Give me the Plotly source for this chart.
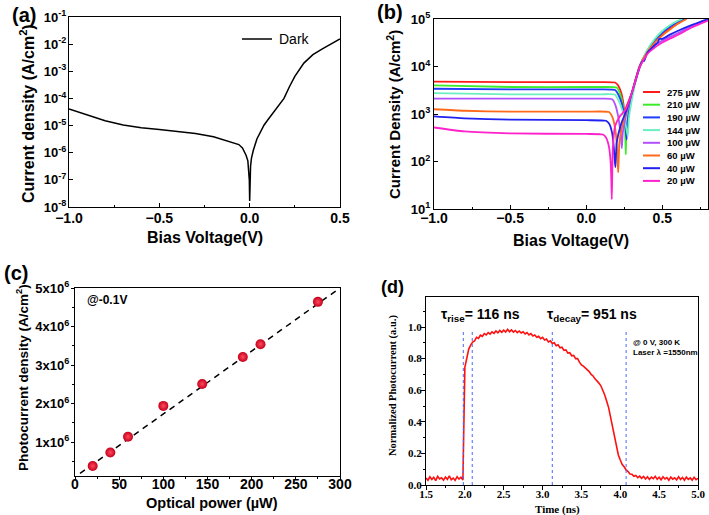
import plotly.graph_objects as go

W, H = 709, 515

# ---------------- data ----------------
# (a) dark J-V
dark_v = [-1.0, -0.9, -0.8, -0.7, -0.6, -0.5, -0.4, -0.3, -0.2, -0.1, -0.06, -0.04, -0.02,
          -0.01, -0.005, -0.002, 0.0, 0.002, 0.005, 0.01, 0.02, 0.04, 0.06, 0.08, 0.1, 0.15,
          0.19, 0.22, 0.25, 0.3, 0.35, 0.4, 0.45, 0.5]
dark_j = [4.1e-5, 2.45e-5, 1.5e-5, 1.05e-5, 8.3e-6, 7.2e-6, 6.2e-6, 5.1e-6, 3.9e-6, 2.5e-6,
          2.0e-6, 1.5e-6, 8.1e-7, 5.0e-7, 2.5e-7, 1.0e-7, 1.66e-8, 1.26e-7, 3.2e-7, 6.3e-7,
          1.2e-6, 3.2e-6, 6.0e-6, 1.05e-5, 1.6e-5, 4.5e-5, 1.0e-4, 2.7e-4, 6.5e-4, 2.0e-3,
          4.1e-3, 6.6e-3, 1.0e-2, 1.55e-2]
a_ytick_vals = [1e-8, 1e-7, 1e-6, 1e-5, 1e-4, 1e-3, 1e-2, 1e-1]
a_ytick_text = ["10<sup>-8</sup>", "10<sup>-7</sup>", "10<sup>-6</sup>", "10<sup>-5</sup>",
                "10<sup>-4</sup>", "10<sup>-3</sup>", "10<sup>-2</sup>", "10<sup>-1</sup>"]

# (b) illuminated J-V
b_labels = ["275 µW", "210 µW", "190 µW", "144 µW", "100 µW", "60 µW", "40 µW", "20 µW"]
b_colors = ["#ff1a1a", "#3cec2a", "#1f3cff", "#6af0c0", "#b050ff", "#ff6a1a", "#2020f0", "#ff22cc"]

v275 = [-1.0, -0.5, 0.0, 0.1, 0.19, 0.21, 0.23, 0.245, 0.25, 0.27, 0.3, 0.35, 0.4, 0.45, 0.5, 0.55, 0.6, 0.65]
j275 = [4.8e3, 4.7e3, 4.7e3, 4.7e3, 4.6e3, 4.0e3, 2.8e3, 1.6e3, 1.1e3, 1.6e3, 2.8e3, 1.0e4, 2.0e4, 3.3e4, 4.8e4, 6.3e4, 7.9e4, 1.0e5]
v210 = [-1.0, -0.5, 0.0, 0.1, 0.2, 0.22, 0.24, 0.255, 0.26, 0.265, 0.28, 0.3, 0.35, 0.4, 0.45, 0.5, 0.55, 0.6, 0.64]
j210 = [4.0e3, 3.7e3, 3.7e3, 3.7e3, 3.6e3, 2.8e3, 1.6e3, 5.0e2, 1.4e2, 5.0e2, 1.26e3, 2.6e3, 1.0e4, 2.1e4, 3.7e4, 5.5e4, 7.2e4, 8.9e4, 1.0e5]
v190 = [-1.0, -0.5, 0.0, 0.1, 0.19, 0.21, 0.235, 0.255, 0.265, 0.27, 0.29, 0.3, 0.35, 0.4, 0.45, 0.5, 0.55, 0.6, 0.65]
j190 = [3.4e3, 3.3e3, 3.3e3, 3.3e3, 3.2e3, 2.6e3, 1.6e3, 7.1e2, 2.9e2, 6.3e2, 1.6e3, 2.5e3, 9.5e3, 2.0e4, 3.5e4, 5.2e4, 6.9e4, 8.5e4, 1.0e5]
v144 = [-1.0, -0.5, 0.0, 0.1, 0.19, 0.21, 0.235, 0.255, 0.273, 0.28, 0.3, 0.35, 0.4, 0.45, 0.5, 0.55, 0.6, 0.63]
j144 = [2.75e3, 2.6e3, 2.6e3, 2.6e3, 2.55e3, 2.0e3, 1.26e3, 7.1e2, 3.4e2, 7.9e2, 2.0e3, 1.0e4, 2.2e4, 3.8e4, 5.6e4, 7.4e4, 9.1e4, 1.0e5]
v100 = [-1.0, -0.5, 0.0, 0.1, 0.17, 0.19, 0.21, 0.225, 0.234, 0.24, 0.26, 0.3, 0.35, 0.4, 0.45, 0.5, 0.6, 0.7, 0.8]
j100 = [2.1e3, 2.1e3, 2.1e3, 2.1e3, 2.05e3, 1.6e3, 8.9e2, 4.0e2, 1.9e2, 4.0e2, 8.9e2, 2.8e3, 1.0e4, 1.9e4, 2.8e4, 3.5e4, 5.0e4, 7.1e4, 9.5e4]
v60 = [-1.0, -0.8, -0.5, 0.0, 0.15, 0.17, 0.19, 0.2, 0.207, 0.21, 0.218, 0.24, 0.27, 0.3, 0.35, 0.4, 0.45, 0.5, 0.55, 0.6, 0.66]
j60 = [1.26e3, 1.17e3, 1.12e3, 1.12e3, 1.1e3, 8.9e2, 5.0e2, 2.5e2, 1.0e2, 5.9e1, 2.5e2, 6.3e2, 1.4e3, 2.8e3, 1.0e4, 2.0e4, 3.2e4, 4.5e4, 6.0e4, 7.9e4, 1.0e5]
v40 = [-1.0, -0.8, -0.5, 0.0, 0.13, 0.15, 0.17, 0.18, 0.188, 0.192, 0.2, 0.23, 0.26, 0.3, 0.35, 0.37, 0.38, 0.4, 0.45, 0.47, 0.48, 0.5, 0.55, 0.6, 0.7, 0.8]
j40 = [8.9e2, 8.1e2, 7.6e2, 7.4e2, 7.2e2, 6.3e2, 4.0e2, 2.2e2, 1.0e2, 7.6e1, 2.5e2, 6.3e2, 1.1e3, 2.8e3, 9.5e3, 1.3e4, 1.3e4, 1.9e4, 2.8e4, 3.2e4, 3.8e4, 3.8e4, 4.7e4, 5.6e4, 7.6e4, 1.0e5]
v20 = [-1.0, -0.8, -0.5, 0.0, 0.11, 0.13, 0.15, 0.16, 0.165, 0.168, 0.175, 0.19, 0.22, 0.26, 0.3, 0.35, 0.4, 0.45, 0.5, 0.6, 0.7, 0.8]
j20 = [5.2e2, 4.3e2, 3.9e2, 3.8e2, 3.7e2, 3.2e2, 2.0e2, 1.0e2, 4.0e1, 1.6e1, 2.0e2, 5.6e2, 8.9e2, 1.26e3, 2.8e3, 9.5e3, 1.8e4, 2.5e4, 3.2e4, 4.6e4, 6.8e4, 9.3e4]
b_v = [v275, v210, v190, v144, v100, v60, v40, v20]
b_j = [j275, j210, j190, j144, j100, j60, j40, j20]
b_ytick_vals = [1e1, 1e2, 1e3, 1e4, 1e5]
b_ytick_text = ["10<sup>1</sup>", "10<sup>2</sup>", "10<sup>3</sup>", "10<sup>4</sup>", "10<sup>5</sup>"]

# (c) photocurrent density vs optical power
c_power = [20, 40, 60, 100, 144, 190, 210, 275]
c_jph = [0.38e6, 0.73e6, 1.14e6, 1.94e6, 2.51e6, 3.21e6, 3.54e6, 4.64e6]
fit_x = [5.7, 300]
fit_y = [0.187e6, 5.0e6]
c_ytick_vals = [1e6, 2e6, 3e6, 4e6, 5e6]
c_ytick_text = ["1x10<sup>6</sup>", "2x10<sup>6</sup>", "3x10<sup>6</sup>", "4x10<sup>6</sup>", "5x10<sup>6</sup>"]

# (d) transient photocurrent, sampled from t0 every dt
pulse_t0 = 1.5
pulse_dt = 0.025
pulse_y = [0.045, 0.030, 0.052, 0.035, 0.048, 0.028, 0.055, 0.038, 0.046, 0.031,
           0.050, 0.036, 0.058, 0.033, 0.044, 0.029, 0.053, 0.037, 0.049, 0.032,
           0.745, 0.815, 0.86, 0.885, 0.905, 0.912, 0.935, 0.928, 0.948, 0.94,
           0.958, 0.95, 0.965, 0.955, 0.97, 0.96, 0.975, 0.963, 0.978, 0.966,
           0.98, 0.968, 0.985, 0.97, 0.982, 0.968, 0.978, 0.965, 0.975, 0.962,
           0.97, 0.956, 0.965, 0.95, 0.958, 0.943, 0.95, 0.935, 0.942, 0.926,
           0.935, 0.918, 0.924, 0.906, 0.913, 0.896, 0.9, 0.882, 0.888, 0.868,
           0.872, 0.852, 0.855, 0.835, 0.838, 0.818, 0.82, 0.8, 0.8, 0.778,
           0.76, 0.752, 0.742, 0.726, 0.718, 0.7, 0.69, 0.672, 0.66, 0.645,
           0.628, 0.6, 0.57, 0.53, 0.49, 0.43, 0.37, 0.3, 0.24, 0.19,
           0.158, 0.13, 0.115, 0.095, 0.085, 0.07, 0.068, 0.055, 0.06, 0.046,
           0.056, 0.042, 0.054, 0.038, 0.052, 0.035, 0.05, 0.04, 0.055, 0.036,
           0.049, 0.033, 0.052, 0.038, 0.047, 0.03, 0.05, 0.037, 0.046, 0.032,
           0.053, 0.035, 0.048, 0.03, 0.05, 0.036, 0.045, 0.031, 0.049, 0.034,
           0.042]
d_markers = [1.98, 2.095, 3.125, 4.075]

# ---------------- helpers (layout only) ----------------
def px(x):
    return x / W

def py(y):
    return 1 - y / H

SANS = "Arial, Liberation Sans, sans-serif"
SERIF = "Times New Roman, Liberation Serif, serif"

fig = go.Figure()

# (a)
fig.add_trace(go.Scatter(x=dark_v, y=dark_j, mode="lines", line=dict(color="black", width=1.5),
                         xaxis="x", yaxis="y", name="Dark"))
# (b)
for vv, jj, col, lab in zip(b_v, b_j, b_colors, b_labels):
    fig.add_trace(go.Scatter(x=vv, y=jj, mode="lines", line=dict(color=col, width=1.8, shape="spline", smoothing=0.5),
                             xaxis="x2", yaxis="y2", name=lab))
# (c)
fig.add_trace(go.Scatter(x=fit_x, y=fit_y, mode="lines", line=dict(color="black", width=1.5, dash="6px,5px"),
                         xaxis="x3", yaxis="y3", name="fit"))
fig.add_trace(go.Scatter(x=c_power, y=c_jph, mode="markers",
                         marker=dict(size=10, color="#c4001a", gradient=dict(type="radial", color="#ff4a60"),
                                     line=dict(width=0)),
                         xaxis="x3", yaxis="y3", name="data"))
# (d)
fig.add_trace(go.Scatter(x0=pulse_t0, dx=pulse_dt, y=pulse_y, mode="lines",
                         line=dict(color="#ff1010", width=1.6), xaxis="x4", yaxis="y4", name="pulse"))

def ax_style(ticks, ticklen, font, size, standoff=0, **kw):
    d = dict(showline=True, linecolor="black", linewidth=1.3, mirror=True, showgrid=False, zeroline=False,
             ticks=ticks, ticklen=ticklen, tickwidth=1.2, tickcolor="black", automargin=False,
             ticklabelstandoff=standoff,
             tickfont=dict(family=font, size=size, color="black", weight="bold"))
    d.update(kw)
    return d

layout = dict(
    width=W, height=H, margin=dict(l=0, r=0, t=0, b=0, autoexpand=False),
    paper_bgcolor="white", plot_bgcolor="white",
    showlegend=False,
    xaxis=ax_style("inside", 4, SANS, 14, -2, domain=[px(69), px(340)], anchor="y", range=[-1.0, 0.5],
                   tick0=-1.0, dtick=0.5, tickformat=".1f",
                   minor=dict(ticks="inside", ticklen=2, dtick=0.25, tickcolor="black")),
    yaxis=ax_style("inside", 4, SANS, 13, -1, domain=[py(207), py(17)], anchor="x", type="log", range=[-8, -1],
                   tickvals=a_ytick_vals, ticktext=a_ytick_text),
    xaxis2=ax_style("inside", 4, SANS, 14, -4, domain=[px(434), px(708)], anchor="y2", range=[-1.0, 0.8],
                    tick0=-1.0, dtick=0.5, tickformat=".1f",
                    minor=dict(ticks="inside", ticklen=2, dtick=0.25, tickcolor="black")),
    yaxis2=ax_style("inside", 4, SANS, 13, 0, domain=[py(209), py(19)], anchor="x2", type="log", range=[1, 5],
                    tickvals=b_ytick_vals, ticktext=b_ytick_text),
    xaxis3=ax_style("outside", 3, SANS, 14, -8, domain=[px(75), px(340)], anchor="y3", range=[0, 300],
                    tick0=0, dtick=50, minor=dict(ticks="outside", ticklen=2, dtick=25, tickcolor="black")),
    yaxis3=ax_style("outside", 3, SANS, 13, -1, domain=[py(476), py(288)], anchor="x3", range=[0.12e6, 5.0e6],
                    tickvals=c_ytick_vals, ticktext=c_ytick_text,
                    minor=dict(ticks="outside", ticklen=2, dtick=0.5e6, tick0=0, tickcolor="black")),
    xaxis4=ax_style("outside", 4, SERIF, 11, -5, domain=[px(426), px(698)], anchor="y4", range=[1.5, 5.0],
                    tick0=1.5, dtick=0.5, tickformat=".1f",
                    minor=dict(ticks="outside", ticklen=2, dtick=0.25, tickcolor="black")),
    yaxis4=ax_style("outside", 4, SERIF, 11, -3, domain=[py(485), py(297)], anchor="x4", range=[0, 1.19],
                    tick0=0, dtick=0.2, tickformat=".1f",
                    minor=dict(ticks="outside", ticklen=2, dtick=0.1, tickcolor="black")),
)
fig.update_layout(**layout)

ann = []
def A(text, x, y, size, family=SANS, bold=True, angle=0, xanchor="center", yanchor="middle"):
    ann.append(dict(text=text, x=px(x), y=py(y), xref="paper", yref="paper", showarrow=False,
                    xanchor=xanchor, yanchor=yanchor, textangle=angle,
                    font=dict(family=family, size=size, color="black", weight="bold" if bold else "normal")))

# panel labels
A("(a)", 24, 15, 20)
A("(b)", 390, 12, 20)
A("(c)", 16, 273, 20)
A("(d)", 392, 287, 18)
# axis titles
A("Current density (A/cm<sup>2</sup>)", 27, 114, 16, angle=-90)
A("Bias Voltage(V)", 205, 237, 16)
A("Current Density (A/cm<sup>2</sup>)", 393, 115, 15, angle=-90)
A("Bias Voltage(V)", 571, 240, 16)
A("Photocurrent density (A/cm<sup>2</sup>)", 22, 378, 13.5, angle=-90)
A("Optical power (µW)", 212, 503, 14.5)
A("Normalized Photocurrent (a.u.)", 393, 386, 10.5, family=SERIF, angle=-90)
A("Time (ns)", 557, 509, 11, family=SERIF)
# in-plot texts
A("Dark", 277, 39, 14, bold=False, xanchor="left")
A("@-0.1V", 85, 300, 12, xanchor="left")
A("τ<sub>rise</sub>= 116 ns", 481, 315, 14)
A("τ<sub>decay</sub>= 951 ns", 592, 315, 14)
A("@ 0 V, 300 K", 631, 342, 8, xanchor="left")
A("Laser λ =1550nm", 631, 352, 8, xanchor="left")

shapes = []
# legend (a)
shapes.append(dict(type="line", xref="paper", yref="paper", x0=px(242), x1=px(272), y0=py(39), y1=py(39),
                   line=dict(color="black", width=1.5)))
# legend (b)
for k, (lab, col) in enumerate(zip(b_labels, b_colors)):
    yy = 92 + 12.7 * k
    shapes.append(dict(type="line", xref="paper", yref="paper", x0=px(643), x1=px(660), y0=py(yy), y1=py(yy),
                       line=dict(color=col, width=2)))
    A(lab, 665, yy, 9.5, xanchor="left")
# (d) dotted markers
for t in d_markers:
    shapes.append(dict(type="line", xref="x4", yref="y4", x0=t, x1=t, y0=0, y1=0.98,
                       line=dict(color="#4a66ff", width=1.0, dash="dot")))

fig.update_layout(annotations=ann, shapes=shapes)
fig.write_html("out.html", config={"displayModeBar": False},
               post_script="document.body.style.margin='0px';document.body.style.overflow='hidden';")
